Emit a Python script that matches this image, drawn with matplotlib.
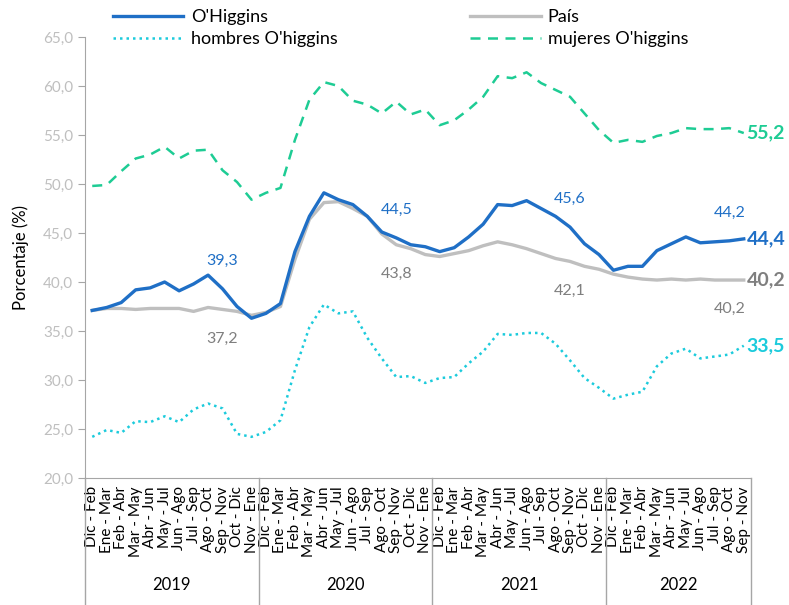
import matplotlib.pyplot as plt
import matplotlib.transforms as mtransforms

plt.rcParams['font.family'] = ['Lato', 'DejaVu Sans']

# moving quarters, one group per year
years = ['2019', '2020', '2021', '2022']
quarters = ['Dic - Feb', 'Ene - Mar', 'Feb - Abr', 'Mar - May', 'Abr - Jun', 'May - Jul',
            'Jun - Ago', 'Jul - Sep', 'Ago - Oct', 'Sep - Nov', 'Oct - Dic', 'Nov - Ene']
months_per_year = [12, 12, 12, 10]
categories = []
for n in months_per_year:
    categories += quarters[:n]

ohiggins = [37.1, 37.4, 37.9, 39.2, 39.4, 40.0, 39.1, 39.8, 40.7, 39.3, 37.5, 36.3,
            36.8, 37.8, 43.1, 46.7, 49.1, 48.4, 47.9, 46.7, 45.1, 44.5, 43.8, 43.6,
            43.1, 43.5, 44.6, 45.9, 47.9, 47.8, 48.3, 47.5, 46.7, 45.6, 43.9, 42.8,
            41.2, 41.6, 41.6, 43.2, 43.9, 44.6, 44.0, 44.1, 44.2, 44.4]
pais = [37.1, 37.3, 37.3, 37.2, 37.3, 37.3, 37.3, 37.0, 37.4, 37.2, 37.0, 36.6,
        36.9, 37.5, 42.3, 46.4, 48.1, 48.2, 47.5, 46.7, 44.9, 43.8, 43.4, 42.8,
        42.6, 42.9, 43.2, 43.7, 44.1, 43.8, 43.4, 42.9, 42.4, 42.1, 41.6, 41.3,
        40.8, 40.5, 40.3, 40.2, 40.3, 40.2, 40.3, 40.2, 40.2, 40.2]
hombres = [24.2, 24.9, 24.6, 25.8, 25.7, 26.3, 25.7, 27.0, 27.6, 27.1, 24.5, 24.2,
           24.7, 25.9, 31.0, 35.4, 37.7, 36.8, 37.0, 34.3, 32.2, 30.3, 30.4, 29.7,
           30.2, 30.3, 31.7, 32.9, 34.7, 34.6, 34.8, 34.8, 33.7, 32.0, 30.2, 29.2,
           28.1, 28.5, 28.8, 31.4, 32.7, 33.2, 32.2, 32.4, 32.6, 33.5]
mujeres = [49.8, 49.9, 51.3, 52.6, 53.0, 53.8, 52.6, 53.4, 53.5, 51.4, 50.2, 48.4,
           49.1, 49.6, 54.5, 58.6, 60.4, 60.0, 58.5, 58.1, 57.2, 58.4, 57.1, 57.6,
           56.0, 56.5, 57.6, 58.9, 61.0, 60.8, 61.4, 60.3, 59.6, 58.9, 57.2, 55.5,
           54.2, 54.5, 54.3, 54.9, 55.2, 55.7, 55.6, 55.6, 55.7, 55.2]

# points that carry a data label
label_idx = [9, 21, 33, 44]

blue = '#1F6FC6'
grey = '#BFBFBF'
grey_txt = '#7F7F7F'
cyan = '#1CCBDC'
green = '#1ECC94'

fig = plt.figure(figsize=(7.89, 6.05), dpi=100)
ax = fig.add_axes([85 / 789, 1 - 478 / 605, 666 / 789, 441 / 605])

x = list(range(len(categories)))
l_hom, = ax.plot(x, hombres, color=cyan, lw=1.8, linestyle=(0, (1, 1.6)), label="hombres O'higgins")
l_muj, = ax.plot(x, mujeres, color=green, lw=1.8, linestyle=(0, (4, 3)), label="mujeres O'higgins")
l_pais, = ax.plot(x, pais, color=grey, lw=2.4, label='País')
l_ohi, = ax.plot(x, ohiggins, color=blue, lw=2.4, label="O'Higgins")

def fmt(v):
    return f'{v:.1f}'.replace('.', ',')

for i in label_idx:
    ax.annotate(fmt(ohiggins[i]), (i, ohiggins[i]), xytext=(0, 20), textcoords='offset points',
                ha='center', va='center', color=blue, fontsize=11.5)
    ax.annotate(fmt(pais[i]), (i, pais[i]), xytext=(0, -21), textcoords='offset points',
                ha='center', va='center', color=grey_txt, fontsize=11.5)

last = len(categories) - 1
for series, col in [(ohiggins, blue), (pais, grey_txt), (mujeres, green), (hombres, cyan)]:
    ax.annotate(fmt(series[last]), (last, series[last]), xytext=(2, 0), textcoords='offset points',
                ha='left', va='center', color=col, fontsize=14, fontweight='bold',
                annotation_clip=False)

ax.set_xlim(-0.5, len(categories) - 0.5)
ax.set_ylim(20, 65)
ax.set_yticks([20 + 5 * k for k in range(10)])
ax.set_yticklabels([fmt(20 + 5 * k) for k in range(10)], color='#BFBFBF', fontsize=11)
ax.set_ylabel('Porcentaje (%)', fontsize=12, labelpad=10)

ax.set_xticks(x)
ax.set_xticklabels(categories, rotation=90, va='top', fontsize=11)
ax.tick_params(axis='x', length=0, pad=6)
ax.tick_params(axis='y', length=5, color='#A6A6A6')

for s in ['top', 'right']:
    ax.spines[s].set_visible(False)
for s in ['left', 'bottom']:
    ax.spines[s].set_color('#A6A6A6')

# year groups under the category labels
trans = mtransforms.blended_transform_factory(ax.transData, ax.transAxes)
bottom = -127 / 441
edges = [-0.5]
for n in months_per_year:
    edges.append(edges[-1] + n)
for e in edges:
    ax.plot([e, e], [0, bottom], color='#A6A6A6', lw=1, transform=trans, clip_on=False)
for k, yr in enumerate(years):
    ax.text((edges[k] + edges[k + 1]) / 2, -107 / 441, yr, transform=trans,
            ha='center', va='center', fontsize=12)

fig.legend(handles=[l_ohi, l_hom, l_pais, l_muj], ncol=2, loc='upper left',
           bbox_to_anchor=(113 / 789, 1 - 9 / 605), frameon=False, fontsize=13,
           borderpad=0, borderaxespad=0, handlelength=3.9, columnspacing=7.35,
           labelspacing=0.33, handletextpad=0.4)

fig.savefig('out.png', dpi=100)
